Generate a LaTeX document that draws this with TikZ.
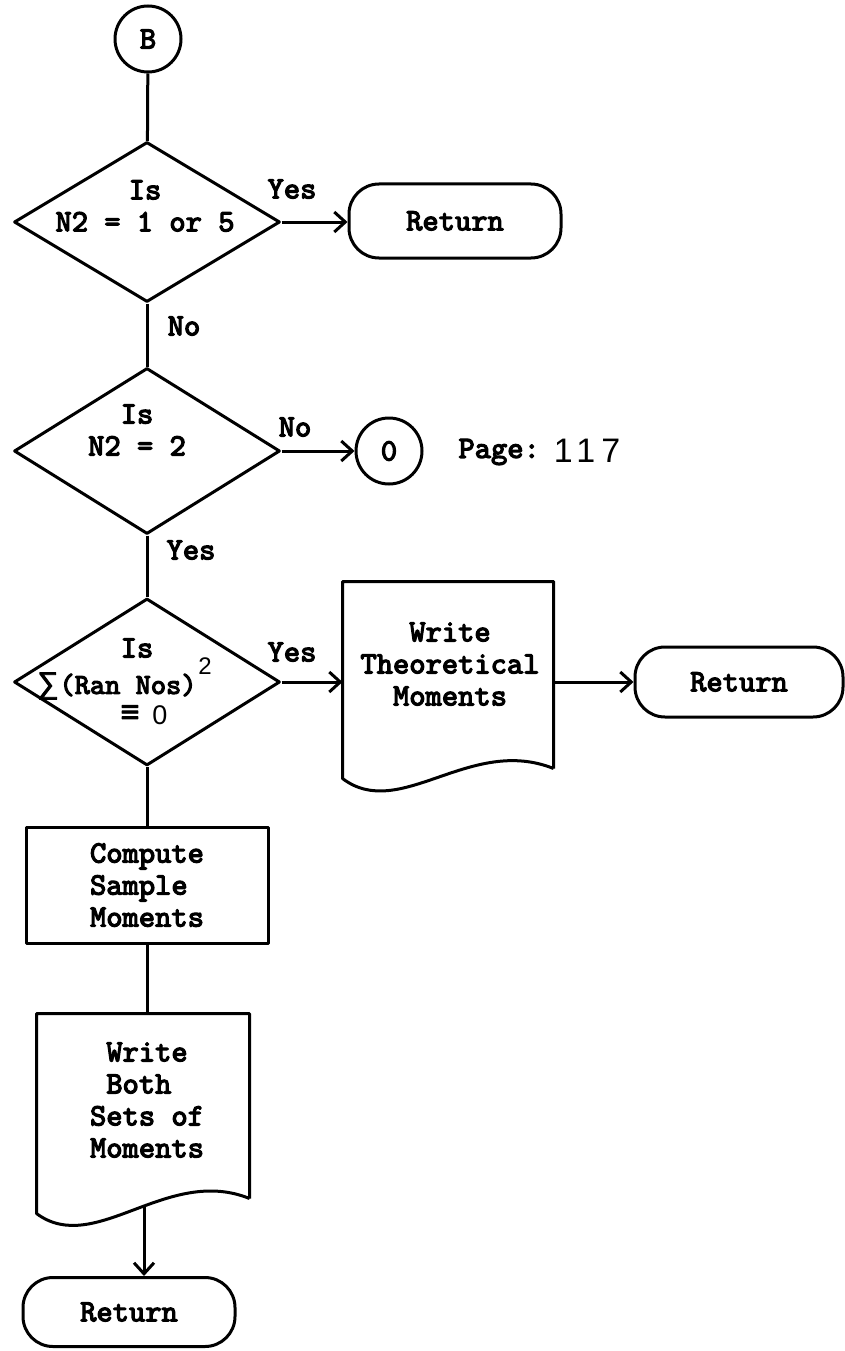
\documentclass[tikz,border=0pt]{standalone}
\usepackage{fontspec}
\usetikzlibrary{arrows.meta,shapes.geometric,calc}
\newfontfamily\twfont[FakeBold=4]{lmmono10-regular.otf}
\newfontfamily\handfont{Liberation Sans}
\newfontfamily\symfont[FakeBold=3]{Liberation Sans}
\newfontfamily\spacedhand[LetterSpace=18]{Liberation Sans}
\begin{document}
\begin{tikzpicture}[x=1pt,y=-1pt,
  line width=3pt, line join=round,
  >={Straight Barb[length=11pt,width=20pt]},
  tfont/.style={font=\twfont\fontsize{31}{32}\selectfont},
  txt/.style={tfont, inner sep=0pt, align=center},
  dec/.style={draw, diamond, inner sep=0pt, minimum width=266pt, minimum height=162pt},
  term/.style={draw, tfont, rounded corners=30pt, minimum width=212pt, minimum height=74pt, inner sep=0pt},
  conn/.style={draw, tfont, circle, minimum size=66pt, inner sep=0pt},
  proc/.style={draw, tfont, rectangle, minimum width=242pt, minimum height=116pt, inner sep=0pt, align=left},
  docbox/.style={inner sep=0pt}
]
\useasboundingbox (0,0) rectangle (844,1351);

% first decision
\node[conn] (B) at (148,39) {B};
\node[dec, minimum height=160pt] (d1) at (147,222) {};
\node[txt] (d1t) at (145,206) {Is\\N2 = 1 or 5};
\node[term] (r1) at (455,221) {Return};
\node[txt] (y1) at (292,189) {Yes};
\node[txt] (n1) at (184,326) {No};

% second decision
\node[dec, minimum height=166pt] (d2) at (147,451) {};
\node[txt] (d2t) at (137,430) {Is\\N2 = 2};
\node[txt] (n2) at (295,427) {No};
\node[conn] (c0) at (389,451) {0};
\node[txt, anchor=west] (pg) at (457,452) {Page:};
\node[font=\spacedhand\fontsize{34}{34}\selectfont, inner sep=0pt] (p117) at (587,451) {117};
\node[txt] (y2) at (191,550) {Yes};

% third decision
\node[dec, minimum height=167pt] (d3) at (147,682) {};
\node[txt] (d3a) at (137,648) {Is};
\node[inner sep=0pt, font=\symfont\fontsize{30}{30}\selectfont] (d3sig) at (48,686) {∑};
\node[txt, anchor=west, font=\twfont\fontsize{29}{30}\selectfont] (d3b) at (58,685) {(Ran Nos)};
\node[font=\handfont\fontsize{24}{24}\selectfont, inner sep=0pt] (d3s) at (205,666) {2};
\node[inner sep=0pt, font=\symfont\fontsize{32}{32}\selectfont] (d3eq) at (130,714) {≡};
\node[font=\handfont\fontsize{27}{27}\selectfont, inner sep=0pt] (d3z) at (160,715) {0};
\node[txt] (y3) at (292,652) {Yes};

% document 1
\node[docbox, minimum width=208pt, minimum height=184pt] (doc1) at (448,675) {};
\draw (doc1.south east) -- (doc1.north east) -- (doc1.north west) -- ($(doc1.south west)+(0,10)$)
  .. controls (400,822) and (470,735) .. (doc1.south east);
\node[txt] (doc1t) at (450,664) {Write\\Theoretical\\Moments};
\node[term, minimum width=208pt, minimum height=70pt] (r2) at (739,682) {Return};

% compute
\node[proc] (comp) at (147,885) {Compute\\Sample\\Moments};

% document 2
\node[docbox, minimum width=210pt, minimum height=182pt] (doc2) at (143,1106) {};
\draw (doc2.south east) -- (doc2.north east) -- (doc2.north west) -- ($(doc2.south west)+(0,15)$)
  .. controls (95,1257) and (167,1165) .. (doc2.south east);
\node[txt, align=left] (doc2t) at (147,1100) {\hphantom{S}Write\\\hphantom{S}Both\\Sets of\\Moments};
\coordinate (w2) at (144,1205);
\node[term, minimum width=212pt, minimum height=69pt] (r3) at (129,1312) {Return};

% connectors
\draw (B) -- (d1);
\draw[->] (d1.east) -- (d1.east -| r1.west);
\draw (d1) -- (d2);
\draw[->] (d2.east) -- (c0.west);
\draw (d2) -- (d3);
\draw[->] (d3.east) -- (d3.east -| doc1.west);
\draw[->] (doc1.east |- r2.west) -- (r2.west);
\draw (d3) -- (comp);
\draw (comp.south) -- (comp.south |- doc2.north);
\draw[->] (w2) -- (w2 |- r3.north);
\end{tikzpicture}
\end{document}
